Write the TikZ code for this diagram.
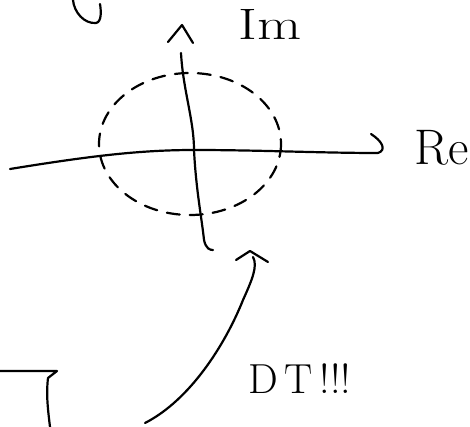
\documentclass[tikz,border=0pt]{standalone}
\begin{document}
\begin{tikzpicture}[x=1pt,y=-1pt,line width=2.2pt,line cap=round,line join=round]
\useasboundingbox (0,0) rectangle (470,427);
% cut-off letter at the top
\draw (73,0) .. controls (74,12) and (84,24) .. (96,23) .. controls (102,22) and (101,10) .. (100,4);
% real axis
\coordinate (o) at (194,150);
\coordinate (reend) at (378,153);
\draw (10,169) .. controls (90,156) and (140,150) .. (o) .. controls (260,150) and (320,153) .. (reend);
\draw (reend) .. controls (387,150) and (382,141) .. (371,134);
\node[anchor=base west,font=\fontsize{50}{50}\selectfont,inner sep=0pt] (re) at (413,165) {Re};
% imaginary axis
\coordinate (imtop) at (181,53);
\draw (imtop) .. controls (183,90) and (194,120) .. (o) .. controls (196,190) and (202,220) .. (204,240) .. controls (206,249) and (210,250) .. (213,250);
\draw (168,42) -- (182,25) -- (193,43);
\node[anchor=base west,font=\fontsize{44}{44}\selectfont,inner sep=0pt,xscale=1.3] (im) at (237,40) {Im};
% unit circle, dashed
\draw[dash pattern=on 13pt off 10pt] (190,144) ellipse [x radius=91,y radius=71];
% arrow up to the circle
\coordinate (tail) at (145,423);
\coordinate (tip) at (253,257);
\draw (tail) .. controls (190,400) and (225,345) .. (243,300) .. controls (252,280) and (258,266) .. (tip);
\draw (236,260) -- (250,251) -- (268,262);
\node[anchor=base west,font=\fontsize{42}{42}\selectfont,inner sep=0pt] (dt) at (247,393) {D\,T\,!!!};
% bracket at the bottom left
\draw (0,371) -- (57,371) -- (48,378) .. controls (46,395) and (48,410) .. (50,427);
\end{tikzpicture}
\end{document}
